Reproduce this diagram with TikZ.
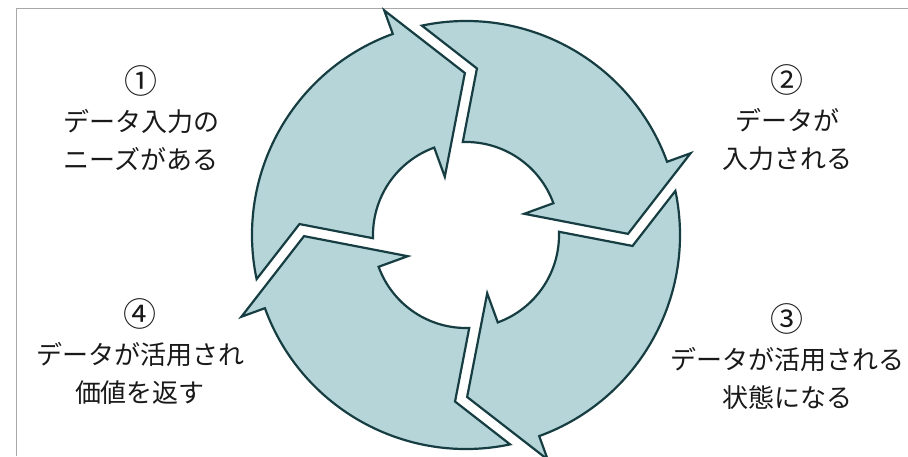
\documentclass[tikz,border=0pt]{standalone}
\usepackage{fontspec}
\newfontfamily\jpfont{Noto Sans CJK JP}
\definecolor{arrowfill}{RGB}{182,213,216}
\definecolor{arrowline}{RGB}{22,62,66}
\definecolor{framegray}{RGB}{168,168,168}
\newcommand{\stepnum}[1]{{\fontsize{33}{38}\selectfont #1}}
\begin{document}
\begin{tikzpicture}[x=1pt,y=1pt,
  cyclearrow/.style={fill=arrowfill,draw=arrowline,line width=2.2pt,line join=miter},
  steplabel/.style={font=\jpfont\fontsize{26}{38}\selectfont,align=center,text=black!90,inner sep=0pt}]
  \useasboundingbox (0,0) rectangle (908,456);
  \coordinate (C) at (466,221);
  \draw[framegray,line width=1.5pt] (16.5,0) -- (16.5,447.5) -- (908,447.5);
  \foreach \r in {0,-90,-180,-270}{
    \begin{scope}[shift={(C)},rotate=\r]
      \draw[cyclearrow] (191.9:214) arc[start angle=191.9,end angle=110,radius=214]
        -- (110:239) -- (90.4:162) -- (110:62) -- (110:93)
        arc[start angle=110,end angle=182,radius=93] -- (176.24:166.9) -- cycle;
    \end{scope}
  }
  \node[steplabel] (t1) at (141,338) {\stepnum{①}\\データ入力の\\ニーズがある};
  \node[steplabel] (t2) at (787,338) {\stepnum{②}\\データが\\入力される};
  \node[steplabel] (t3) at (787,99) {\stepnum{③}\\データが活用される\\状態になる};
  \node[steplabel] (t4) at (140,104) {\stepnum{④}\\データが活用され\\価値を返す};
\end{tikzpicture}
\end{document}
